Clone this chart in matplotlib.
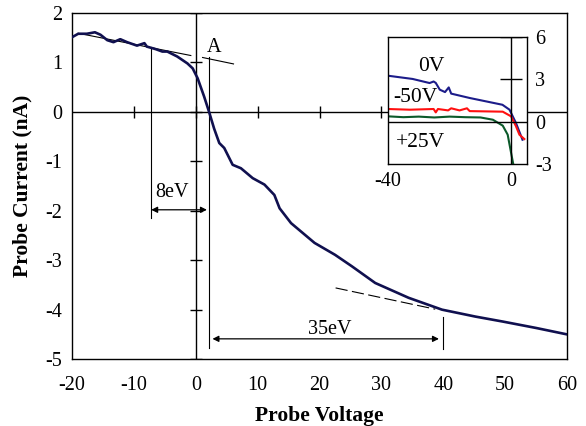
import numpy as np
import matplotlib
matplotlib.use("Agg")
import matplotlib.pyplot as plt

plt.rcParams["font.family"] = ["Liberation Serif", "DejaVu Serif"]
plt.rcParams["axes.unicode_minus"] = False

# Main characteristic (probe voltage, probe current)
main_v = [-20, -19, -17.6, -16.3, -15.4, -14.3, -13.3, -12.2, -11.1, -9.5, -8.3, -7.9,
          -6.5, -5.4, -4.6, -3, -1.35, -0.5, 0.3, 1.35, 2.15, 2.97, 3.8, 4.6, 5.96, 7.3,
          9.2, 11.1, 12.7, 13.55, 15.4, 19.2, 22.5, 25.2, 29, 34.4, 39.8, 45.2, 49.6, 55, 60]
main_i = [1.51, 1.58, 1.58, 1.61, 1.56, 1.45, 1.41, 1.47, 1.41, 1.34, 1.39, 1.32,
          1.27, 1.22, 1.22, 1.12, 0.98, 0.88, 0.68, 0.31, 0.0, -0.34, -0.63, -0.73, -1.07, -1.14,
          -1.34, -1.47, -1.68, -1.95, -2.25, -2.65, -2.89, -3.12, -3.46, -3.76, -4.0, -4.14, -4.24, -4.37, -4.5]

# Inset curves
v_0v = [-40, -32, -26.5, -25.2, -24.5, -23.2, -21.5, -20.3, -19.5, -13.5, -8.2, -2.9, -0.6, 1.5, 3.6]
i_0v = [3.26, 3.03, 2.74, 2.85, 2.75, 2.27, 2.1, 2.43, 1.99, 1.68, 1.44, 1.2, 0.85, -0.1, -1.28]
v_m50 = [-40, -32.9, -25.2, -24.5, -23.8, -20.5, -19.5, -16.8, -14.4, -13.5, -8.2, -2.8, -0.1, 1.5, 2.6, 4.2]
i_m50 = [0.9, 0.85, 0.9, 0.66, 0.9, 0.8, 0.95, 0.8, 0.95, 0.75, 0.73, 0.71, 0.38, -0.33, -0.92, -1.23]
v_p25 = [-40, -35, -30, -25, -20, -15, -10, -6, -2.8, -1.2, -0.1, 0.6]
i_p25 = [0.38, 0.32, 0.36, 0.3, 0.36, 0.32, 0.3, 0.14, -0.28, -0.92, -2.2, -3.0]

xticks = [-20, -10, 0, 10, 20, 30, 40, 50, 60]
yticks = [2, 1, 0, -1, -2, -3, -4, -5]

# construction lines
tan1_v, tan1_i = [-19, -0.8], [1.59, 1.14]
tan2_v, tan2_i = [1.1, 6.1], [1.1, 0.97]
dash_v, dash_i = [22.6, 38.7], [-3.56, -3.99]
vA = 2.15
v8 = -7.2
v35 = 40

fig = plt.figure(figsize=(5.86, 4.26), dpi=100)
ax = fig.add_axes([0.1229, 0.157, 0.8447, 0.8125])

ax.plot(main_v, main_i, color="#10104f", lw=1.9, zorder=5)

ax.axhline(0, color="k", lw=1)
ax.axvline(0, color="k", lw=1)
ax.plot([t for t in xticks if t not in (-20, 60)], [0] * 7, ls="none", marker="|",
        ms=8, mew=1, color="k")
ax.plot([0] * len(yticks), yticks, ls="none", marker="_", ms=8, mew=1, color="k")

ax.plot(tan1_v, tan1_i, color="k", lw=0.8)
ax.plot(tan2_v, tan2_i, color="k", lw=0.8)
ax.plot(dash_v, dash_i, color="k", lw=0.8, dashes=(11, 4))
ax.plot([vA, vA], [1.1, -4.77], color="k", lw=0.8)
ax.plot([v8, v8], [1.32, -2.15], color="k", lw=0.8)
ax.plot([v35, v35], [-4.15, -4.8], color="k", lw=0.8)

arrow = dict(arrowstyle="<|-|>", color="k", lw=0.9, mutation_scale=9, shrinkA=0, shrinkB=0)
ax.annotate("", xy=(1.8, -1.98), xytext=(v8, -1.98), arrowprops=arrow)
ax.annotate("", xy=(39.3, -4.59), xytext=(2.7, -4.59), arrowprops=arrow)
ax.text(-3.8, -1.64, "8eV", fontsize=14.5, ha="center", va="center")
ax.text(21.7, -4.4, "35eV", fontsize=14.5, ha="center", va="center")
ax.text(2.9, 1.3, "A", fontsize=14.5, ha="center", va="center")

ax.set_xlim(-20, 60)
ax.set_ylim(-5, 2)
ax.set_xticks(xticks)
ax.set_yticks(yticks)
ax.tick_params(length=0, labelsize=14.5)
ax.tick_params(axis="x", pad=12)
ax.tick_params(axis="y", pad=7)
ax.set_xlabel("Probe Voltage", fontsize=15.5, fontweight="bold", labelpad=8)
ax.set_ylabel("Probe Current (nA)", fontsize=15.5, fontweight="bold", labelpad=9)
for s in ax.spines.values():
    s.set_linewidth(1)

# inset
ins = fig.add_axes([0.662, 0.615, 0.237, 0.298])
ins.set_facecolor("white")
ins.plot(v_0v, i_0v, color="#1c1c8a", lw=1.5)
ins.plot(v_m50, i_m50, color="#ff1010", lw=1.5)
ins.plot(v_p25, i_p25, color="#0b5a2a", lw=1.5)
ins.axhline(0, color="k", lw=1)
ins.axvline(0, color="k", lw=1)
ins.plot([0, 0], [3, 6], ls="none", marker="_", ms=16, mew=1, color="k")
ins.text(-26, 3.9, "0V", fontsize=15.5, ha="center", va="center")
ins.text(-31, 1.75, "-50V", fontsize=15.5, ha="center", va="center")
ins.text(-29.6, -1.5, "+25V", fontsize=15.5, ha="center", va="center")
ins.set_xlim(-40, 5)
ins.set_ylim(-3, 6)
ins.set_xticks([-40, 0])
ins.set_yticks([-3, 0, 3, 6])
ins.yaxis.tick_right()
ins.tick_params(length=0, labelsize=14.5, pad=6)
for s in ins.spines.values():
    s.set_linewidth(1)

fig.savefig("out.png", dpi=100)
